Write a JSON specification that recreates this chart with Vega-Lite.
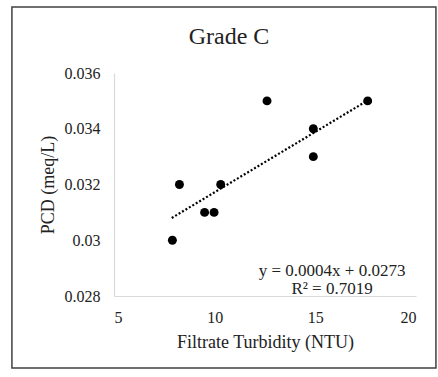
{
  "$schema": "https://vega.github.io/schema/vega-lite/v6.json",
  "width": 302,
  "height": 223,
  "autosize": {"type": "none"},
  "padding": {"left": 114, "top": 73, "right": 22, "bottom": 81},
  "background": "white",
  "config": {
    "view": {"stroke": null},
    "font": "Liberation Serif",
    "axis": {
      "grid": false,
      "ticks": false,
      "domainColor": "#d9d9d9",
      "domainWidth": 1.2,
      "labelFont": "Liberation Serif",
      "labelFontSize": 16,
      "labelColor": "#222222",
      "titleFont": "Liberation Serif",
      "titleFontSize": 18,
      "titleFontWeight": "normal",
      "titleColor": "#222222"
    },
    "axisX": {"labelPadding": 13, "titlePadding": 8},
    "axisY": {"labelPadding": 14, "titlePadding": 7}
  },
  "title": {
    "text": "Grade C",
    "font": "Liberation Serif",
    "fontSize": 24,
    "fontWeight": "normal",
    "color": "#222222",
    "anchor": "middle",
    "frame": "group",
    "dx": -36,
    "offset": 0,
    "dy": 43
  },
  "layer": [
    {
      "data": {"values": [{}]},
      "mark": {"type": "rect", "fill": null, "stroke": "#404040", "strokeWidth": 1.5, "clip": false},
      "encoding": {
        "x": {"datum": -0.07, "type": "quantitative", "scale": {"domain": [5, 20]}, "title": "Filtrate Turbidity (NTU)", "axis": {"values": [5, 10, 15, 20]}},
        "x2": {"datum": 20.99},
        "y": {"datum": 0.03837, "type": "quantitative", "scale": {"domain": [0.028, 0.036]}, "title": "PCD (meq/L)", "axis": {"values": [0.028, 0.03, 0.032, 0.034, 0.036], "format": ".3~f"}},
        "y2": {"datum": 0.02542}
      }
    },
    {
      "data": {"values": [
        {"x": 7.87, "y": 0.0308},
        {"x": 17.45, "y": 0.03495}
      ]},
      "mark": {"type": "line", "color": "#000000", "strokeWidth": 2.2, "strokeDash": [2, 2]},
      "encoding": {
        "x": {"field": "x", "type": "quantitative", "scale": {"domain": [5, 20]}, "title": "Filtrate Turbidity (NTU)", "axis": {"values": [5, 10, 15, 20]}},
        "y": {"field": "y", "type": "quantitative", "scale": {"domain": [0.028, 0.036]}, "title": "PCD (meq/L)", "axis": {"values": [0.028, 0.03, 0.032, 0.034, 0.036], "format": ".3~f"}}
      }
    },
    {
      "data": {"values": [
        {"x": 7.9, "y": 0.030},
        {"x": 8.25, "y": 0.032},
        {"x": 9.5, "y": 0.031},
        {"x": 9.97, "y": 0.031},
        {"x": 10.3, "y": 0.032},
        {"x": 12.6, "y": 0.035},
        {"x": 14.9, "y": 0.034},
        {"x": 14.9, "y": 0.033},
        {"x": 17.6, "y": 0.035}
      ]},
      "mark": {"type": "circle", "color": "#000000", "opacity": 1, "size": 80},
      "encoding": {
        "x": {"field": "x", "type": "quantitative", "scale": {"domain": [5, 20]}, "title": "Filtrate Turbidity (NTU)", "axis": {"values": [5, 10, 15, 20]}},
        "y": {"field": "y", "type": "quantitative", "scale": {"domain": [0.028, 0.036]}, "title": "PCD (meq/L)", "axis": {"values": [0.028, 0.03, 0.032, 0.034, 0.036], "format": ".3~f"}}
      }
    },
    {
      "data": {"values": [{}]},
      "mark": {"type": "text", "text": ["y = 0.0004x + 0.0273", "R² = 0.7019"], "font": "Liberation Serif", "fontSize": 17, "color": "#222222", "align": "center", "baseline": "middle", "lineHeight": 18},
      "encoding": {
        "x": {"datum": 15.83, "type": "quantitative", "scale": {"domain": [5, 20]}, "title": "Filtrate Turbidity (NTU)", "axis": {"values": [5, 10, 15, 20]}},
        "y": {"datum": 0.02888, "type": "quantitative", "scale": {"domain": [0.028, 0.036]}, "title": "PCD (meq/L)", "axis": {"values": [0.028, 0.03, 0.032, 0.034, 0.036], "format": ".3~f"}}
      }
    }
  ]
}
